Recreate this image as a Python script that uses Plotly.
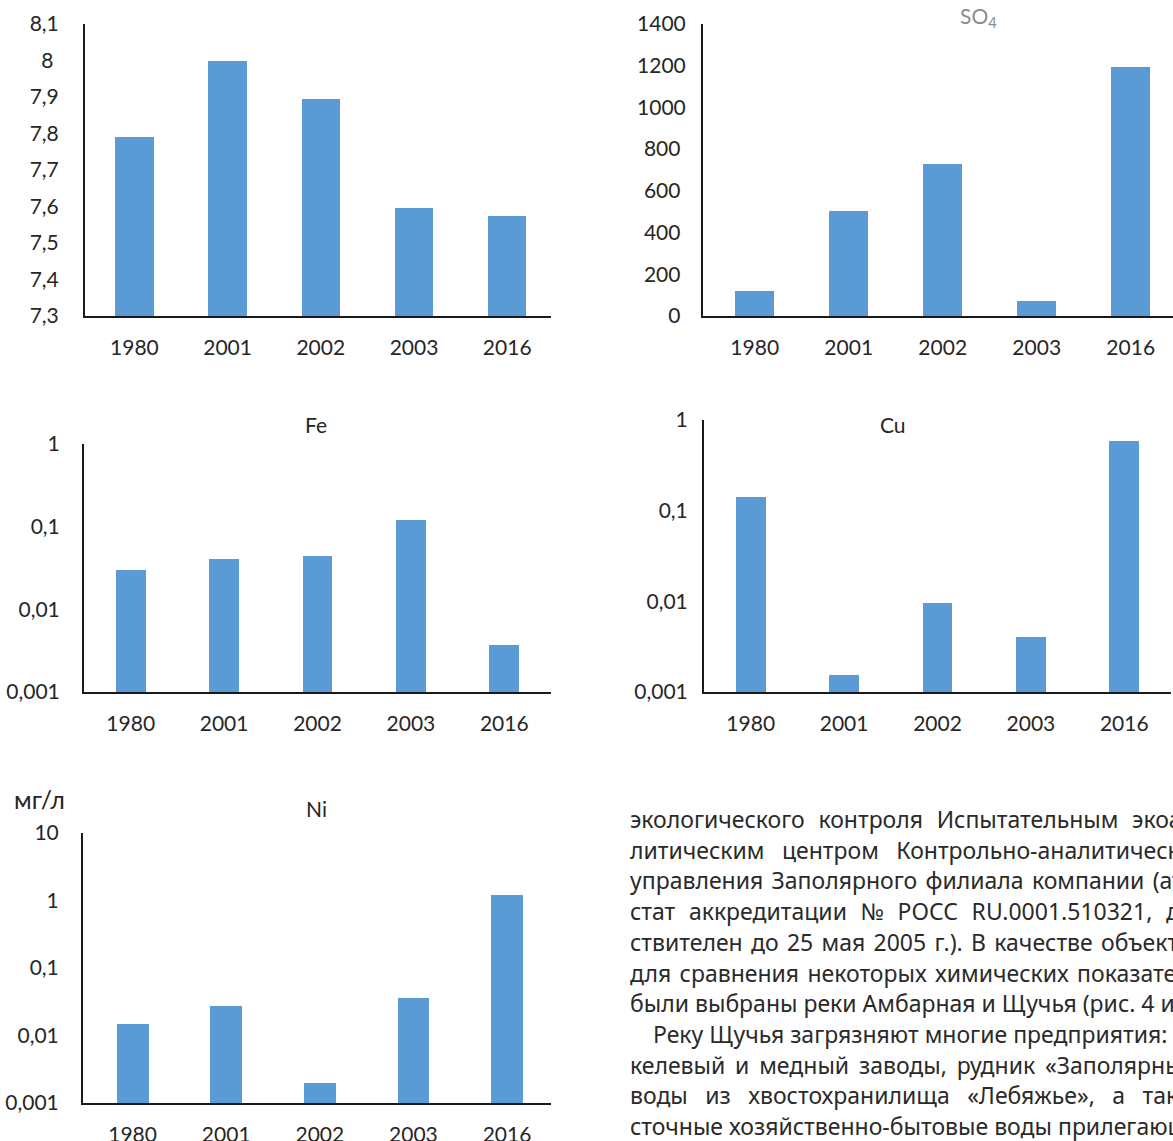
import plotly.graph_objects as go

W, H = 1173, 1141

years = ["1980", "2001", "2002", "2003", "2016"]

ph_values = [7.79, 8.00, 7.895, 7.595, 7.575]
so4_values = [118, 505, 727, 73, 1193]
fe_values = [0.030, 0.041, 0.044, 0.12, 0.0037]
cu_values = [0.14, 0.00155, 0.0097, 0.0040, 0.59]
ni_values = [0.0148, 0.0275, 0.0020, 0.036, 1.2]

ph_ticks = [7.3, 7.4, 7.5, 7.6, 7.7, 7.8, 7.9, 8.0, 8.1]
ph_ticktext = ["7,3", "7,4", "7,5", "7,6", "7,7", "7,8", "7,9", "8\u00a0", "8,1"]
so4_ticks = [0, 200, 400, 600, 800, 1000, 1200, 1400]
so4_ticktext = ["0\u00a0", "200\u00a0", "400\u00a0", "600\u00a0", "800\u00a0", "1000", "1200", "1400"]
log_ticks = [0.001, 0.01, 0.1, 1, 10]
log_ticktext = ["0,001", "0,01", "0,1", "1", "10"]

THIN, HAIR = "\u2009", "\u200a"

# body text beside the Ni panel; second item = padding added to each word gap (justified look)
paragraph = [
    ("экологического контроля Испытательным экоана-", THIN * 2),
    ("литическим центром Контрольно-аналитического", THIN * 3),
    ("управления Заполярного филиала компании (аттес-", HAIR),
    ("стат аккредитации № РОСС RU.0001.510321, дей-", THIN * 2),
    ("ствителен до 25 мая 2005 г.). В качестве объектов", HAIR),
    ("для сравнения некоторых химических показателей", HAIR),
    ("были выбраны реки Амбарная и Щучья (рис. 4 и 5).", ""),
    ("Реку Щучья загрязняют многие предприятия: ни-", ""),
    ("келевый и медный заводы, рудник «Заполярный»,", THIN),
    ("воды из хвостохранилища «Лебяжье», а также", THIN * 3),
    ("сточные хозяйственно-бытовые воды прилегающих", ""),
]

BAR = "#5b9bd5"
INK = "#262626"
FONT = "Lato"


def fx(px):
    return px / W


def fy(py):
    return 1 - py / H


fig = go.Figure()

# panel spec: values, x extent px, y extent px (bottom, top), bar width, x range
panels = [
    (ph_values, (85, 551), (316, 24), 0.41, [-0.53, 4.47]),
    (so4_values, (703, 1173), (316, 24), 0.41, [-0.55, 4.45]),
    (fe_values, (84, 551), (692, 444), 0.32, [-0.5, 4.5]),
    (cu_values, (704, 1171), (692, 420), 0.32, [-0.5, 4.5]),
    (ni_values, (83, 551), (1103, 833), 0.34, [-0.53, 4.47]),
]

for i, (vals, (x0, x1), (yb, yt), bw, xr) in enumerate(panels, start=1):
    sfx = "" if i == 1 else str(i)
    fig.add_trace(go.Bar(
        x=years, y=vals, width=bw, marker=dict(color=BAR, line=dict(width=0)),
        xaxis="x" + sfx, yaxis="y" + sfx, showlegend=False, hoverinfo="skip",
    ))
    fig.layout["xaxis" + sfx] = dict(
        domain=[fx(x0), fx(x1)], anchor="y" + sfx, type="category", range=xr,
        showline=True, linecolor="#1a1a1a", linewidth=2, showgrid=False,
        zeroline=False, ticks="", ticklabelstandoff=12, automargin=False,
        tickfont=dict(family=FONT, size=21, color=INK), fixedrange=True,
    )
    yax = dict(
        domain=[fy(yb), fy(yt)], anchor="x" + sfx,
        showline=True, linecolor="#1a1a1a", linewidth=2, showgrid=False,
        zeroline=False, ticks="", automargin=False,
        tickfont=dict(family=FONT, size=21, color=INK), fixedrange=True,
    )
    if i == 1:
        yax.update(range=[7.3, 8.1], tickvals=ph_ticks, ticktext=ph_ticktext,
                   ticklabelstandoff=20)
    elif i == 2:
        yax.update(range=[0, 1400], tickvals=so4_ticks, ticktext=so4_ticktext,
                   ticklabelstandoff=11)
    else:
        top = 1 if i == 5 else 0
        yax.update(type="log", range=[-3, top],
                   tickvals=[t for t in log_ticks if t <= 10 ** top],
                   ticktext=log_ticktext[: 4 + (1 if i == 5 else 0)],
                   ticklabelstandoff=18 if i != 4 else 10)
    fig.layout["yaxis" + sfx] = yax

annotations = [
    dict(x=fx(978), y=fy(17), text="SO<sub>4</sub>", font=dict(color="#8c8c8c", size=21)),
    dict(x=fx(316), y=fy(425), text="Fe", font=dict(color=INK, size=21)),
    dict(x=fx(893), y=fy(425), text="Cu", font=dict(color=INK, size=21)),
    dict(x=fx(316), y=fy(808), text="Ni", font=dict(color=INK, size=21)),
    dict(x=fx(39), y=fy(799), text="мг/л", font=dict(color=INK, size=25)),
]
for a in annotations:
    a.update(xref="paper", yref="paper", showarrow=False, xanchor="center", yanchor="middle")
    a["font"]["family"] = FONT

for k, (line, pad) in enumerate(paragraph):
    text = (" " + pad).join(line.split(" "))
    annotations.append(dict(
        x=fx(651 if k == 7 else 628), y=fy(819 + 30.7 * k), xref="paper", yref="paper",
        text=text, showarrow=False, xanchor="left", yanchor="middle", align="left",
        font=dict(family="Noto Sans", size=23, color="#2a2a2a"),
    ))

fig.update_layout(
    width=W, height=H, margin=dict(l=0, r=0, t=0, b=0, autoexpand=False),
    paper_bgcolor="white", plot_bgcolor="white",
    annotations=annotations, bargap=0,
)

fig.write_html("out.html", config={"displayModeBar": False})
